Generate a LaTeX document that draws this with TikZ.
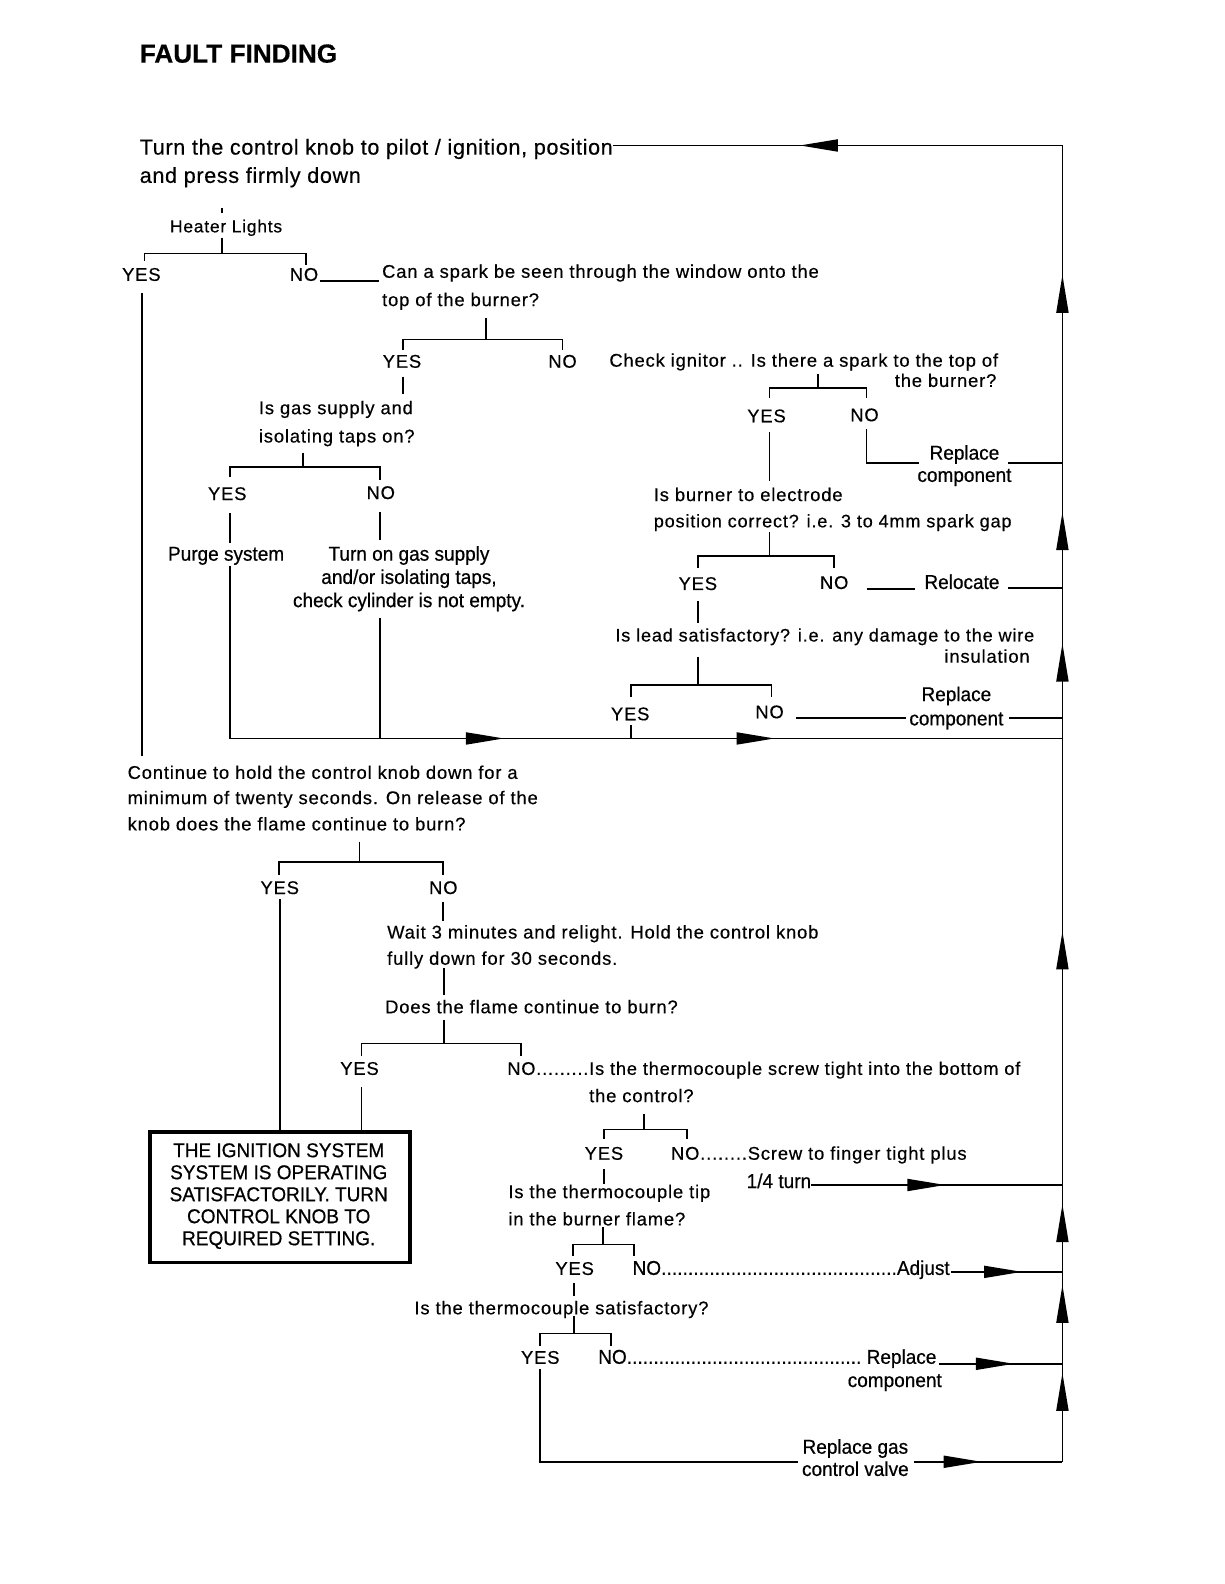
\documentclass[tikz,border=0pt]{standalone}
\usepackage{fontspec}
\setmainfont{Liberation Sans}[LetterSpace=4.5,FakeBold=0.4]
\newfontfamily\narrowf{Liberation Sans}[FakeStretch=0.95,FakeBold=0.6]
\newfontfamily\titlef{Liberation Sans}[FakeBold=0.5]
\newfontfamily\topf{Liberation Sans}[LetterSpace=3,FakeBold=0.4]
\usetikzlibrary{arrows.meta}
\newcommand\ldr{\xleaders\hbox{.}\hfill}
\newcommand\fs{\fontsize{9.2pt}{11pt}\selectfont}
\newcommand\fn{\narrowf\fontsize{10pt}{11pt}\selectfont}
\begin{document}
\begin{tikzpicture}[x=0.50495pt,y=-0.5051pt,
  ln/.style={line width=0.9pt},
  t/.style={anchor=base west,inner sep=0pt,font=\fs},
  tc/.style={anchor=base,inner sep=0pt,font=\fs},
  te/.style={anchor=base east,inner sep=0pt,font=\fs},
  nw/.style={anchor=base west,inner sep=0pt,font=\fn},
  nc/.style={anchor=base,inner sep=0pt,font=\fn},
  arr/.style={line width=0.9pt,-{Triangle[length=19pt,width=6pt]}}]
\useasboundingbox (0,0) rectangle (1212,1568);
% title
\node[anchor=base west,inner sep=0pt,font=\titlef\bfseries\fontsize{13.1pt}{14pt}\selectfont] (title) at (138,62) {FAULT FINDING};
% start
\node[anchor=base west,inner sep=0pt,font=\topf\fontsize{10.8pt}{13pt}\selectfont] (start1) at (138,153) {Turn the control knob to pilot / ignition, position};
\node[anchor=base west,inner sep=0pt,font=\topf\fontsize{10.8pt}{13pt}\selectfont] (start2) at (138,181) {and press firmly down};
\coordinate (rtop) at (1052,144);
\coordinate (rbot) at (1052,1447);
\draw[ln] (start1.east |- rtop) -- (rtop) -- (rbot);
\draw[arr] (832,144) -- (792,144);
% right side up arrows
\foreach \yy in {272,507,637,922,1192,1272,1359} \draw[arr] (1052,\yy+38) -- (1052,\yy);
% heater lights
\node[t,font=\fontsize{8.7pt}{10pt}\selectfont] (heat) at (168,230) {Heater Lights};
\draw[ln] (220,206) -- (220,211);
\draw[ln] (220,236) -- (220,251);
\draw[ln] (143,258) -- (143,251) -- (303,251) -- (303,262);
\node[tc] (y1) at (140,278) {YES};
\node[tc] (n1) at (301,278) {NO};
\draw[ln] (n1.base east) ++(1,0) -- (375,278);
\node[t] (q2a) at (378,275) {Can a spark be seen through the window onto the};
\node[t] (q2b) at (378,303) {top of the burner?};
\draw[ln] (141,290) -- (141,748);
% bracket 2
\draw[ln] (481,315) -- (481,336);
\draw[ln] (399,346) -- (399,336) -- (557,336) -- (557,346);
\node[tc] (y2) at (398,364) {YES};
\node[tc] (n2) at (557,364) {NO};
\draw[ln] (399,373) -- (399,390);
\node[t] (q3a) at (256,410) {Is gas supply and};
\node[t] (q3b) at (256,438) {isolating taps on?};
% bracket 3
\draw[ln] (300,448) -- (300,462);
\draw[ln] (228,472) -- (228,462) -- (376,462) -- (376,475);
\node[tc] (y3) at (225,495) {YES};
\node[tc] (n3) at (377,494) {NO};
\draw[ln] (228,508) -- (228,538);
\draw[ln] (376,507) -- (376,535);
\node[nw] (purge) at (166,555) {Purge system};
\node[nc] (turn1) at (405,555) {Turn on gas supply};
\node[nc] (turn2) at (405,578) {and/or isolating taps,};
\node[nc] (turn3) at (405,601) {check cylinder is not empty.};
\coordinate (mainR) at (1052,731);
\draw[ln] (228,560) -- (228,731) -- (mainR);
\draw[ln] (376,612) -- (376,731);
\draw[arr] (462,731) -- (499,731);
\draw[arr] (730,731) -- (767,731);
% check ignitor
\node[t] (q4a) at (603,363) {Check ignitor .. Is there a spark to the top of};
\node[te] (q4b) at (987,383) {the burner?};
\draw[ln] (810,370) -- (810,384);
\draw[ln] (762,394) -- (762,384) -- (858,384) -- (858,394);
\node[tc] (y4) at (759,418) {YES};
\node[tc] (n4) at (856,417) {NO};
\draw[ln] (762,428) -- (762,476);
\draw[ln] (858,425) -- (858,458) -- (910,458);
\node[nc] (rep1a) at (955,455) {Replace};
\node[nc] (rep1b) at (955,477) {component};
\draw[ln] (998,458) -- (1052,458);
% electrode
\node[t] (q5a) at (647,496) {Is burner to electrode};
\node[t,font=\fontsize{9.05pt}{11pt}\selectfont] (q5b) at (647,522) {position correct? i.e. 3 to 4mm spark gap};
\draw[ln] (762,527) -- (762,550);
\draw[ln] (691,562) -- (691,550) -- (826,550) -- (826,562);
\node[tc] (y5) at (691,584) {YES};
\node[tc] (n5) at (826,583) {NO};
\draw[ln] (858,583) -- (906,583);
\node[nw] (reloc) at (915,583) {Relocate};
\draw[ln] (998,582) -- (1052,582);
\draw[ln] (691,595) -- (691,617);
% lead
\node[t,font=\fontsize{9.05pt}{11pt}\selectfont] (q6a) at (609,635) {Is lead satisfactory? i.e. any damage to the wire};
\node[te] (q6b) at (1020,656) {insulation};
\draw[ln] (691,650) -- (691,678);
\draw[ln] (625,690) -- (625,678) -- (764,678) -- (764,690);
\node[tc] (y6) at (624,713) {YES};
\node[tc] (n6) at (762,711) {NO};
\draw[ln] (788,711) -- (897,711);
\node[nc] (rep2a) at (947,694) {Replace};
\node[nc] (rep2b) at (947,718) {component};
\draw[ln] (999,711) -- (1052,711);
\draw[ln] (625,718) -- (625,731);
% continue
\node[t] (q7a) at (126,771) {Continue to hold the control knob down for a};
\node[t] (q7b) at (126,796) {minimum of twenty seconds. On release of the};
\node[t] (q7c) at (126,822) {knob does the flame continue to burn?};
\draw[ln] (356,833) -- (356,853);
\draw[ln] (276,866) -- (276,853) -- (439,853) -- (439,866);
\node[tc] (y7) at (277,885) {YES};
\node[tc] (n7) at (439,885) {NO};
\draw[ln] (439,893) -- (439,912);
\node[t] (q8a) at (383,929) {Wait 3 minutes and relight. Hold the control knob};
\node[t] (q8b) at (383,955) {fully down for 30 seconds.};
\draw[ln] (440,958) -- (440,985);
\node[t] (q9) at (381,1003) {Does the flame continue to burn?};
\draw[ln] (440,1010) -- (440,1033);
\draw[ln] (358,1045) -- (358,1033) -- (516,1033) -- (516,1045);
\node[tc] (y9) at (356,1064) {YES};
\node[t,font=\fontsize{9.1pt}{11pt}\selectfont] (n9) at (502,1064) {NO.........Is the thermocouple screw tight into the bottom of};
\node[t] (q10b) at (583,1091) {the control?};
% box
\node[draw,line width=1.8pt,minimum width=257*0.50495pt,minimum height=129*0.5051pt,inner sep=0pt,anchor=north west] (box) at (147,1119) {};
\node[nc,align=center,anchor=center] (boxt) at (276,1184) {THE IGNITION SYSTEM\\SYSTEM IS OPERATING\\SATISFACTORILY. TURN\\CONTROL KNOB TO\\REQUIRED SETTING.};
\draw[ln] (277,890) -- (box.north -| 277,0);
\draw[ln] (358,1076) -- (box.north -| 358,0);
% screw
\draw[ln] (638,1103) -- (638,1118);
\draw[ln] (598,1127) -- (598,1118) -- (680,1118) -- (680,1127);
\node[tc] (y10) at (598,1148) {YES};
\node[t] (n10) at (664,1148) {NO........Screw to finger tight plus};
\node[nw] (turn14) at (739,1176) {1/4 turn};
\draw[ln] (803,1173) -- (1052,1173);
\draw[arr] (900,1173) -- (936,1173);
\draw[ln] (598,1157) -- (598,1172);
\node[t] (q11a) at (503,1186) {Is the thermocouple tip};
\node[t] (q11b) at (503,1213) {in the burner flame?};
\draw[ln] (597,1215) -- (597,1232);
\draw[ln] (567,1243) -- (567,1232) -- (628,1232) -- (628,1243);
\node[tc] (y11) at (569,1262) {YES};
\node[nw] (n11) at (626,1262) {\makebox[158.5pt][l]{NO\ldr Adjust}};
\draw[ln] (942,1259) -- (1052,1259);
\draw[arr] (978,1259) -- (1012,1259);
\draw[ln] (568,1270) -- (568,1283);
\node[t] (q12) at (410,1301) {Is the thermocouple satisfactory?};
\draw[ln] (568,1303) -- (568,1320);
\draw[ln] (535,1332) -- (535,1320) -- (605,1320) -- (605,1332);
\node[tc] (y12) at (535,1350) {YES};
\node[nw] (n12) at (592,1350) {\makebox[169pt][l]{NO\ldr\ Replace}};
\node[nc] (rep3b) at (886,1373) {component};
\draw[ln] (930,1350) -- (1052,1350);
\draw[arr] (970,1350) -- (1004,1350);
\draw[ln] (535,1355) -- (535,1447) -- (790,1447);
\node[nc] (gas1) at (847,1439) {Replace gas};
\node[nc] (gas2) at (847,1461) {control valve};
\draw[ln] (905,1447) -- (rbot);
\draw[arr] (938,1447) -- (972,1447);
\end{tikzpicture}
\end{document}
